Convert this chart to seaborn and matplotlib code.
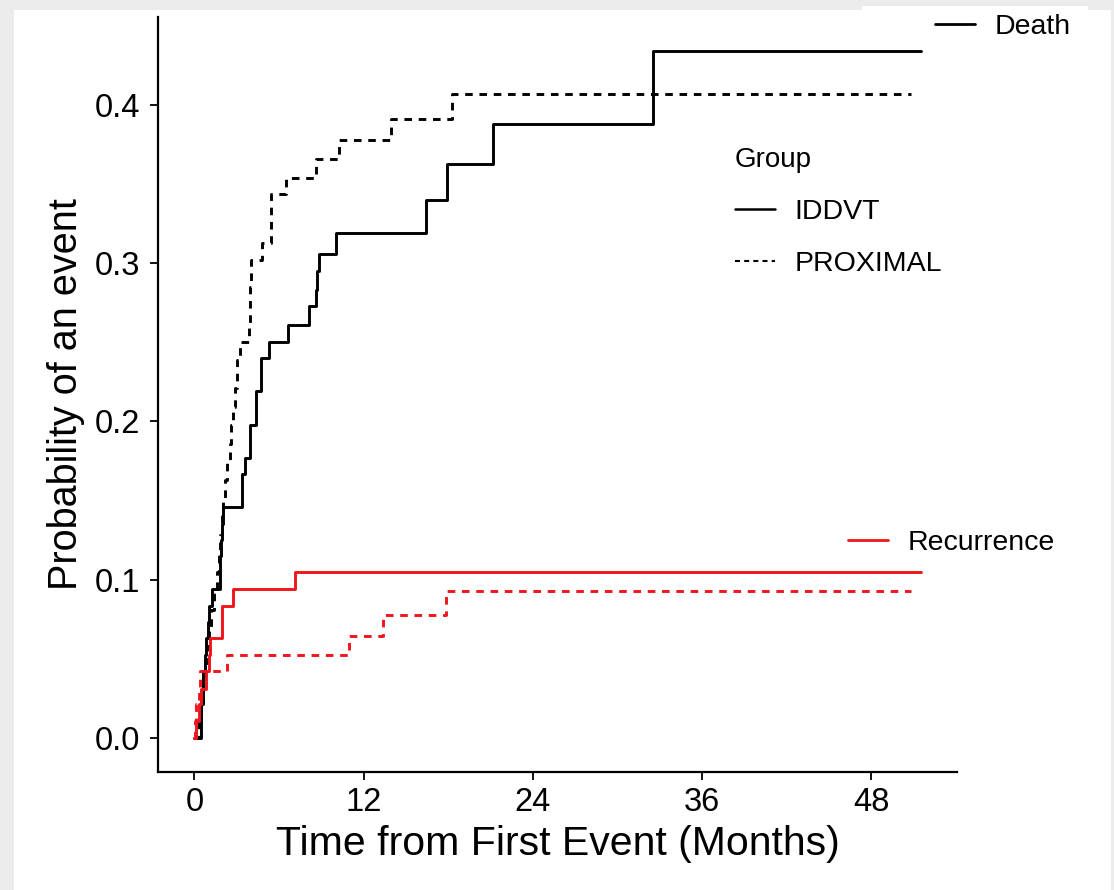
import numpy as np
import pandas as pd
import seaborn as sns
import matplotlib.pyplot as plt
from matplotlib.lines import Line2D
from matplotlib.patches import Rectangle

sns.set_theme(style="white")
plt.rcParams['font.family'] = ['Liberation Sans', 'DejaVu Sans']
plt.rcParams['text.color'] = 'black'

# cumulative incidence steps (months, probability)
death_iddvt_t = [0, 0.45, 0.5, 0.6, 0.65, 0.75, 0.8, 1.0, 1.05, 1.25, 1.8, 1.85, 1.9, 1.95,
                 2.05, 3.4, 3.6, 3.92, 4.4, 4.73, 5.32, 6.64, 8.16, 8.6, 8.7, 8.87, 10.05,
                 16.45, 17.9, 21.2, 32.55, 51.5]
death_iddvt_p = [0, 0.010, 0.021, 0.031, 0.042, 0.052, 0.063, 0.073, 0.083, 0.094, 0.104,
                 0.115, 0.125, 0.135, 0.146, 0.167, 0.177, 0.198, 0.219, 0.240, 0.250, 0.261,
                 0.273, 0.283, 0.295, 0.306, 0.319, 0.340, 0.363, 0.388, 0.434, 0.434]

death_prox_t = [0, 0.3, 0.45, 0.6, 0.75, 0.9, 1.05, 1.2, 1.4, 1.6, 1.75, 1.85, 1.95, 2.05,
                2.2, 2.35, 2.5, 2.6, 2.75, 2.85, 3.0, 3.26, 3.85, 3.92, 3.97, 4.04, 4.8, 5.46,
                6.52, 8.63, 10.28, 13.97, 18.27, 50.8]
death_prox_p = [0, 0.012, 0.023, 0.035, 0.047, 0.058, 0.070, 0.081, 0.093, 0.105, 0.116,
                0.128, 0.140, 0.151, 0.163, 0.174, 0.186, 0.198, 0.209, 0.221, 0.239, 0.250,
                0.262, 0.273, 0.285, 0.302, 0.313, 0.344, 0.354, 0.366, 0.378, 0.391, 0.407,
                0.407]

rec_iddvt_t = [0, 0.1, 0.3, 0.5, 0.8, 1.05, 1.13, 1.96, 2.74, 7.12, 51.5]
rec_iddvt_p = [0, 0.0104, 0.021, 0.031, 0.042, 0.052, 0.063, 0.0835, 0.094, 0.105, 0.105]

rec_prox_t = [0, 0.05, 0.15, 0.3, 0.43, 2.32, 10.95, 13.38, 17.87, 50.8]
rec_prox_p = [0, 0.0105, 0.021, 0.031, 0.042, 0.0524, 0.064, 0.0776, 0.093, 0.093]

x_ticks = [0, 12, 24, 36, 48]
y_ticks = [0.0, 0.1, 0.2, 0.3, 0.4]

frames = []
for ev, grp, t, p in [("Death", "IDDVT", death_iddvt_t, death_iddvt_p),
                      ("Death", "PROXIMAL", death_prox_t, death_prox_p),
                      ("Recurrence", "IDDVT", rec_iddvt_t, rec_iddvt_p),
                      ("Recurrence", "PROXIMAL", rec_prox_t, rec_prox_p)]:
    frames.append(pd.DataFrame({"time": t, "prob": p, "event": ev, "group": grp}))
df = pd.concat(frames, ignore_index=True)

W, H = 1114, 890
red = "#f0141c"
fig = plt.figure(figsize=(W / 100, H / 100), dpi=100, facecolor="#ebebeb")
fig.patches.append(Rectangle((14 / W, 0), (1111 - 14) / W, (H - 10) / H,
                             transform=fig.transFigure, facecolor="white", edgecolor="none", zorder=-1))
fig.patches.append(Rectangle((862 / W, (H - 11) / H), (1088 - 862) / W, 5 / H,
                             transform=fig.transFigure, facecolor="white", edgecolor="none", zorder=-1))

ax = fig.add_axes([158 / W, (H - 772) / H, (957 - 158) / W, (772 - 17) / H])
ax.set_facecolor("white")

sns.lineplot(data=df, x="time", y="prob", hue="event", style="group",
             palette={"Death": "black", "Recurrence": red},
             dashes={"IDDVT": "", "PROXIMAL": (2.6, 2.3)},
             estimator=None, drawstyle="steps-post", linewidth=2.1,
             legend=False, ax=ax)

ax.set_xlim(-2.575, 54.075)
ax.set_ylim(-0.0217, 0.4557)
ax.set_xticks(x_ticks)
ax.set_yticks(y_ticks)
ax.set_yticklabels([f"{v:.1f}" for v in y_ticks])
ax.set_xlabel("Time from First Event (Months)", fontsize=29.5, labelpad=5, color="black")
ax.set_ylabel("Probability of an event", fontsize=28.5, labelpad=7, color="black")
ax.tick_params(axis="both", labelsize=23.5, length=6, width=1.3, color="black",
               labelcolor="black", direction="out", bottom=True, left=True)
ax.tick_params(axis="y", pad=7)
ax.tick_params(axis="x", pad=5)
for s in ["top", "right"]:
    ax.spines[s].set_visible(False)
for s in ["left", "bottom"]:
    ax.spines[s].set_color("black")
    ax.spines[s].set_linewidth(1.6)


def fig_pt(x, y):
    return (x / W, 1 - y / H)


leg_kw = dict(frameon=False, borderpad=0, borderaxespad=0, handlelength=1.4,
              handletextpad=0.7, fontsize=20.5, bbox_transform=fig.transFigure,
              loc="center left", labelcolor="black")

l1 = ax.legend([Line2D([], [], color="black", lw=2.0)], ["Death"],
               bbox_to_anchor=fig_pt(935, 27), **leg_kw)
ax.add_artist(l1)
l2 = ax.legend([Line2D([], [], color=red, lw=2.0)], ["Recurrence"],
               bbox_to_anchor=fig_pt(848, 543), **leg_kw)
ax.add_artist(l2)
l3 = ax.legend([Line2D([], [], color="black", lw=1.8),
                Line2D([], [], color="black", lw=1.5, dashes=(2.4, 2.0))],
               ["IDDVT", "PROXIMAL"], title="Group", title_fontsize=20,
               labelspacing=0.9, alignment="left",
               bbox_to_anchor=fig_pt(735, 212), **leg_kw)
l3.get_title().set_color("black")

fig.savefig("out.png", dpi=100, facecolor=fig.get_facecolor())
